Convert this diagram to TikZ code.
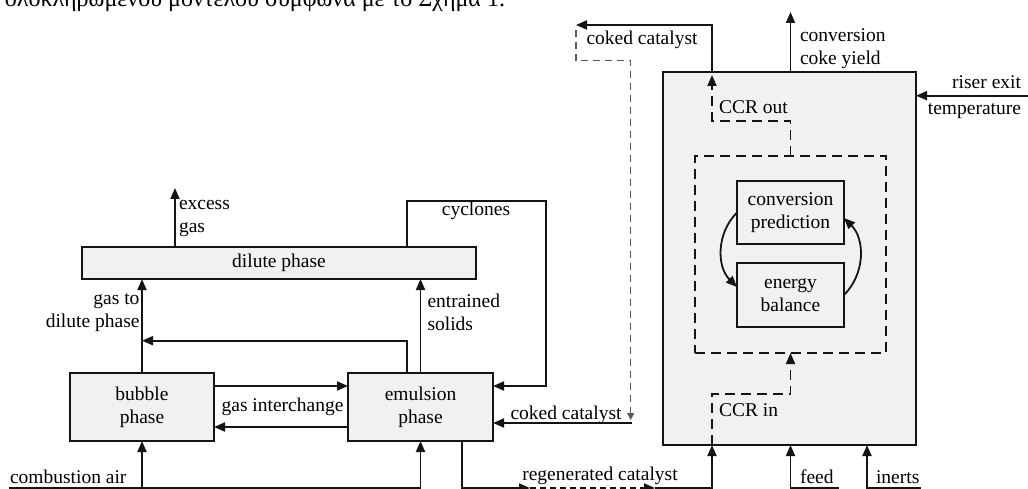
\documentclass[tikz,border=0pt]{standalone}
\usepackage{fontspec}
\setmainfont{Liberation Serif}
\usetikzlibrary{arrows.meta}
\definecolor{boxfill}{RGB}{241,241,241}
\definecolor{ink}{RGB}{20,20,20}
\definecolor{thinink}{RGB}{90,90,90}
\begin{document}
\begin{tikzpicture}[x=1pt,y=-1pt,
  font=\fontsize{19.5}{23}\selectfont,
  every node/.style={inner sep=0pt, outer sep=0pt},
  blk/.style={draw=ink, fill=boxfill, line width=1.8pt, align=center},
  conn/.style={draw=ink, line width=1.8pt},
  tip/.style={-{Triangle[length=11pt,width=9pt]}},
  arr/.style={conn, tip},
  dsh/.style={conn, dash pattern=on 10pt off 6pt},
  dsharr/.style={dsh, tip},
  rgdash/.style={conn, dash pattern=on 6pt off 4pt, tip},
  thindash/.style={draw=thinink, line width=1.1pt, dash pattern=on 7pt off 5pt, -{Triangle[length=7pt,width=7pt]}}
]
\useasboundingbox (0,0) rectangle (1028,489);

% cut-off text line at the top
\node[anchor=base west, font=\fontsize{24}{28}\selectfont] (gr) at (5,6.5) {ολοκληρωμένου μοντέλου σύμφωνα με το Σχήμα 1.};

% boxes
\node[blk, minimum width=394pt, minimum height=32pt] (dilute) at (279,263) {dilute phase};
\node[blk, minimum width=144pt, minimum height=68pt] (bubble) at (142,407) {bubble\\phase};
\node[blk, minimum width=145pt, minimum height=68pt] (emul) at (420.5,407) {emulsion\\phase};
\node[blk, minimum width=253pt, minimum height=373pt] (reactor) at (789.5,258.5) {};
\node[dsh, minimum width=191pt, minimum height=197pt] (inner) at (790.5,254.5) {};
\node[blk, minimum width=107pt, minimum height=63pt] (conv) at (790.5,212.5) {conversion\\prediction};
\node[blk, minimum width=107pt, minimum height=64pt] (energy) at (790.5,295) {energy\\balance};

% excess gas
\coordinate (exTop) at (175,188);
\draw[arr] (dilute.north -| exTop) -- (exTop);
\node[anchor=west, align=left] (exL) at (179,219) {excess\\gas};

% cyclones
\coordinate (cyA) at (406.7,200.7);
\coordinate (cyB) at (545.7,200.7);
\draw[arr] (dilute.north -| cyA) -- (cyA) -- (cyB) |- ([yshift=21pt]emul.east);
\node (cycL) at (476,211) {cyclones};

% gas to dilute phase / entrained solids
\coordinate (mergeL) at (142,340.7);
\draw[arr] (bubble.north) -- (dilute.south -| bubble.north);
\draw[arr] ([xshift=-13.8pt]emul.north) |- (bubble.north |- mergeL);
\draw[arr] (emul.north) -- (dilute.south -| emul.north);
\node[anchor=east, align=right] (gtd) at (139.5,312.5) {gas to\\dilute phase};
\node[anchor=west, align=left] (ent) at (427.5,312.5) {entrained\\solids};

% gas interchange
\draw[arr] ([yshift=21pt]bubble.east) -- ([yshift=21pt]emul.west);
\draw[arr] ([yshift=-20pt]emul.west) -- ([yshift=-20pt]bubble.east);
\node (gi) at (282.5,406.5) {gas interchange};

% combustion air
\coordinate (caS) at (9,488);
\draw[conn] (caS) -- (emul.south |- caS);
\draw[arr] (bubble.south |- caS) -- (bubble.south);
\draw[arr] (emul.south |- caS) -- (emul.south);
\node[anchor=base west] (caL) at (10,483) {combustion air};

% regenerated catalyst
\coordinate (rgB) at (530,488);
\coordinate (rgC) at (655,488);
\coordinate (rgD) at (712,488);
\draw[arr] ([xshift=41.8pt]emul.south) |- (rgB);
\draw[rgdash] (rgB) -- (rgC);
\draw[arr] (rgC) -- (rgD) -- (reactor.south -| rgD);
\node[anchor=base] (rgL) at (600,480) {regenerated catalyst};

% CCR in
\coordinate (ciA) at (712,394);
\coordinate (ciB) at (790.5,394);
\draw[dsharr] (reactor.south -| ciA) -- (ciA) -- (ciB) -- (inner.south);
\node[anchor=west] (ciL) at (719,410) {CCR in};

% feed, inerts
\coordinate (fdE) at (839,488);
\coordinate (fdA) at (790.5,488);
\draw[arr] (fdE) -- (fdA) -- (reactor.south -| fdA);
\node[anchor=base west] (fdL) at (800,483) {feed};
\coordinate (inE) at (921,488);
\coordinate (inA) at (867,488);
\draw[arr] (inE) -- (inA) -- (reactor.south -| inA);
\node[anchor=base west] (inL) at (876,483) {inerts};

% riser exit temperature
\coordinate (rsE) at (1030,95.7);
\draw[arr] (rsE) -- (reactor.east |- rsE);
\node[anchor=east, align=right] (rsL) at (1021,97) {riser exit\\[3pt]temperature};

% conversion, coke yield
\coordinate (cvT) at (790.5,12);
\draw[arr] (reactor.north -| cvT) -- (cvT);
\node[anchor=west, align=left] (cvL) at (800,49) {conversion\\coke yield};

% CCR out
\coordinate (coA) at (790.5,121);
\coordinate (coB) at (712,121);
\coordinate (coC) at (712,75);
\draw[dsharr] (inner.north) -- (coA) -- (coB) -- (coC);
\node[anchor=west] (coL) at (719,107) {CCR out};

% coked catalyst
\coordinate (ckA) at (712,25);
\coordinate (ckB) at (576,25);
\draw[arr] (reactor.north -| ckA) -- (ckA) -- (ckB);
\node (ckL1) at (642,40) {coked catalyst};
\coordinate (tdA) at (576,30);
\coordinate (tdB) at (576,60.7);
\coordinate (tdC) at (630.7,60.7);
\coordinate (tdD) at (630.7,420);
\draw[thindash] (tdA) -- (tdB) -- (tdC) -- (tdD);
\coordinate (ckC) at (631.5,423);
\draw[arr] (ckC) -- (emul.east |- ckC);
\node[anchor=base] (ckL2) at (566,419) {coked catalyst};

% loop between the two models
\draw[arr] (conv.west) to[bend right=45] ([yshift=8pt]energy.west);
\draw[arr] (energy.east) to[bend right=45] ([yshift=-5.5pt]conv.east);
\end{tikzpicture}
\end{document}
